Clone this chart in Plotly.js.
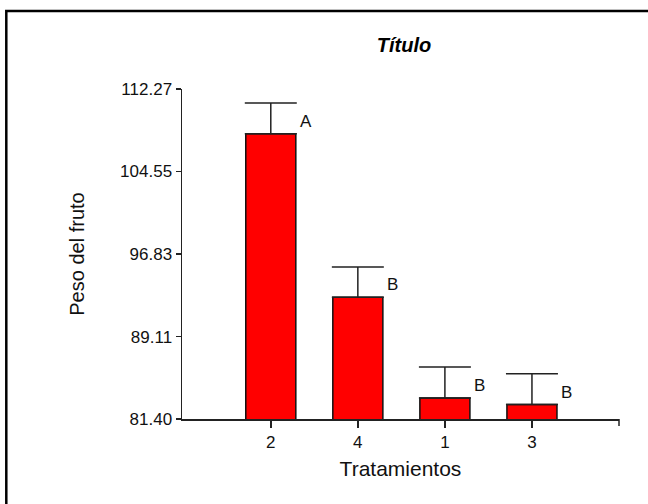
<!DOCTYPE html>
<html>
<head>
<meta charset="utf-8">
<script src="https://cdn.plot.ly/plotly-3.0.1.min.js"></script>
<style>
  html, body { margin: 0; padding: 0; background: #fff; }
  #chart { width: 648px; height: 504px; }
</style>
</head>
<body>
<div id="chart"></div>
<script>
// Treatments, ordered from heaviest to lightest mean fruit weight
const tratamientos = ["2", "4", "1", "3"];
const pesoMedio = [108.09, 92.78, 83.37, 82.75];
const errorEst = [2.87, 2.85, 2.89, 2.89];
const letras = ["A", "B", "B", "B"];

// Y axis ticks
const yTicks = [81.40, 89.11, 96.83, 104.55, 112.27];
const yTickText = ["81.40", "89.11", "96.83", "104.55", "112.27"];

const FONT = "Liberation Sans, Arial, sans-serif";
const INK = "#111";

const bars = {
  type: "bar",
  x: tratamientos,
  y: pesoMedio,
  width: 0.575,
  marker: { color: "#ff0000", line: { color: "#111", width: 1.5 } },
  error_y: {
    type: "data",
    symmetric: false,
    array: errorEst,
    arrayminus: tratamientos.map(() => 0),
    color: "#222",
    thickness: 1.5,
    width: 26
  },
  hoverinfo: "skip",
  showlegend: false
};

// Significance letters beside each bar (category axis positions are indices)
const letterNotes = tratamientos.map((t, i) => ({
  x: i,
  y: pesoMedio[i],
  xref: "x",
  yref: "y",
  text: letras[i],
  showarrow: false,
  xanchor: "center",
  yanchor: "middle",
  xshift: 35,
  yshift: 12.5,
  font: { family: FONT, size: 17, color: INK }
}));

const layout = {
  width: 648,
  height: 504,
  margin: { l: 182, r: 29, t: 89, b: 85, pad: 0 },
  paper_bgcolor: "#fff",
  plot_bgcolor: "#fff",
  font: { family: FONT, color: INK },
  title: {
    text: "<b><i>Título</i></b>",
    font: { family: FONT, size: 20, color: "#000" },
    x: 0.508,
    xref: "paper",
    xanchor: "center",
    y: 0.9107,
    yref: "container",
    yanchor: "middle"
  },
  xaxis: {
    type: "category",
    range: [-1.02, 4.0],
    showline: true,
    linecolor: "#222",
    linewidth: 1.5,
    ticks: "outside",
    ticklen: 7,
    tickwidth: 1.5,
    tickcolor: "#222",
    ticklabelstandoff: 0,
    tickfont: { family: FONT, size: 17, color: INK },
    showgrid: false,
    zeroline: false,
    fixedrange: true,
    title: {
      text: "Tratamientos",
      font: { family: FONT, size: 21, color: INK },
      standoff: 10
    }
  },
  yaxis: {
    range: [81.40, 112.27],
    tickmode: "array",
    tickvals: yTicks,
    ticktext: yTickText,
    showline: true,
    linecolor: "#222",
    linewidth: 1.5,
    ticks: "outside",
    ticklen: 5,
    tickwidth: 1.5,
    tickcolor: "#222",
    tickfont: { family: FONT, size: 17, color: INK },
    showgrid: false,
    zeroline: false,
    fixedrange: true,
    title: {
      text: "Peso del fruto",
      font: { family: FONT, size: 20, color: INK },
      standoff: 30
    }
  },
  annotations: letterNotes,
  shapes: [
    // closing tick at the right end of the x axis
    {
      type: "line", xref: "paper", yref: "paper",
      x0: 1, x1: 1, y0: 0, y1: -7 / 330,
      line: { color: "#222", width: 1.5 }
    },
    // outer frame (left and top edges visible)
    {
      type: "rect", xref: "paper", yref: "paper",
      x0: (6.3 - 182) / 437, x1: (700 - 182) / 437,
      y0: (419 - 560) / 330, y1: (419 - 11) / 330,
      line: { color: "#000", width: 2.5 },
      fillcolor: "rgba(0,0,0,0)",
      layer: "above"
    }
  ]
};

Plotly.newPlot("chart", [bars], layout, { displayModeBar: false, staticPlot: true });
</script>
</body>
</html>
